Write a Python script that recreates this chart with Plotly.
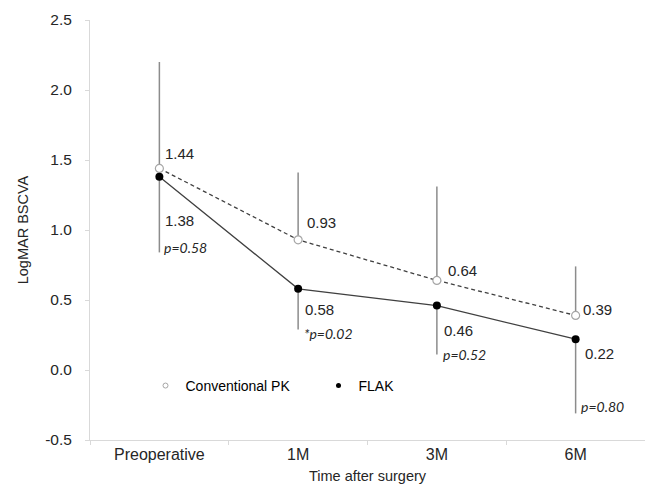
import plotly.graph_objects as go

# ---- data ----
categories = ["Preoperative", "1M", "3M", "6M"]
pk_mean = [1.44, 0.93, 0.64, 0.39]          # Conventional PK
pk_err_plus = [0.76, 0.48, 0.67, 0.35]      # upper SD bars
flak_mean = [1.38, 0.58, 0.46, 0.22]        # FLAK
flak_err_minus = [0.54, 0.29, 0.35, 0.53]   # lower SD bars
p_labels = ["p=0.58", "*p=0.02", "p=0.52", "p=0.80"]
y_tick_vals = [-0.5, 0.0, 0.5, 1.0, 1.5, 2.0, 2.5]
y_tick_text = ["-0.5", "0.0", "0.5", "1.0", "1.5", "2.0", "2.5"]

# ---- label placement (pixel offsets from the points) ----
pk_lab_off = [(4, 15), (7, 17), (9, 10), (5, 6)]
flak_lab_off = [(4, -44), (5, -21), (5, -25), (7, -14)]
p_lab_off = [(3, -71), (4, -45), (4, -49), (3, -67)]

x_idx = list(range(len(categories)))
LINE = "#404040"
BAR = "#8c8c8c"
AX = "#d9d9d9"
TXT = "#262626"
FONT = "Liberation Sans, Arial, sans-serif"

fig = go.Figure()

fig.add_trace(go.Scatter(
    x=categories, y=pk_mean, mode="lines+markers", name="Conventional PK",
    showlegend=False,
    line=dict(color=LINE, width=1.3, dash="4px,3px"),
    marker=dict(symbol="circle", size=8, color="white",
                line=dict(color="#a6a6a6", width=1.2)),
    error_y=dict(type="data", symmetric=False, array=pk_err_plus,
                 arrayminus=[0] * 4, color=BAR, thickness=1.5, width=0),
))
fig.add_trace(go.Scatter(
    x=categories, y=flak_mean, mode="lines+markers", name="FLAK",
    showlegend=False,
    line=dict(color=LINE, width=1.3),
    marker=dict(symbol="circle", size=8, color="black"),
    error_y=dict(type="data", symmetric=False, array=[0] * 4,
                 arrayminus=flak_err_minus, color=BAR, thickness=1.5, width=0),
))
# legend-only entries (markers only, as in the reference)
fig.add_trace(go.Scatter(
    x=[None], y=[None], mode="markers", name="Conventional PK",
    marker=dict(symbol="circle", size=5, color="white",
                line=dict(color="#a6a6a6", width=1)),
))
fig.add_trace(go.Scatter(
    x=[None], y=[None], mode="markers", name="FLAK",
    marker=dict(symbol="circle", size=5, color="black"),
))

annotations = []
for i in x_idx:
    dx, dy = pk_lab_off[i]
    annotations.append(dict(x=i, y=pk_mean[i], xref="x", yref="y",
                            text=f"{pk_mean[i]:.2f}", showarrow=False,
                            xanchor="left", yanchor="middle",
                            xshift=dx, yshift=dy,
                            font=dict(family=FONT, size=15, color=TXT)))
    dx, dy = flak_lab_off[i]
    annotations.append(dict(x=i, y=flak_mean[i], xref="x", yref="y",
                            text=f"{flak_mean[i]:.2f}", showarrow=False,
                            xanchor="left", yanchor="middle",
                            xshift=dx, yshift=dy,
                            font=dict(family=FONT, size=15, color=TXT)))
    dx, dy = p_lab_off[i]
    annotations.append(dict(x=i, y=flak_mean[i], xref="x", yref="y",
                            text=f"<i>{p_labels[i]}</i>", showarrow=False,
                            xanchor="left", yanchor="middle",
                            xshift=dx, yshift=dy,
                            font=dict(family="Lato, Carlito, sans-serif",
                                      size=14, color=TXT)))

fig.update_layout(
    width=645, height=484,
    margin=dict(l=90, r=0, t=20, b=44, autoexpand=False),
    paper_bgcolor="white", plot_bgcolor="white",
    font=dict(family=FONT, size=15, color=TXT),
    hovermode=False,
    annotations=annotations,
    showlegend=True,
    legend=dict(orientation="h", x=0.1, y=(-0.114 + 0.5) / 3.0,
                xref="paper", yref="paper", xanchor="left",
                yanchor="middle",
                entrywidth=128, entrywidthmode="pixels",
                font=dict(family=FONT, size=14, color="black"),
                bgcolor="rgba(0,0,0,0)", borderwidth=0),
)

fig.update_xaxes(
    type="category", range=[-0.5, 3.5], tickson="boundaries",
    showline=True, linecolor=AX, linewidth=1,
    ticks="outside", ticklen=4, tickcolor=AX,
    showgrid=False, zeroline=False,
    tickfont=dict(family=FONT, size=16, color=TXT),
    title=dict(text="Time after surgery", standoff=8,
               font=dict(family=FONT, size=14.5, color=TXT)),
    automargin=False,
)
fig.update_yaxes(
    range=[-0.5, 2.5], tickvals=y_tick_vals, ticktext=y_tick_text,
    showline=True, linecolor=AX, linewidth=1,
    ticks="outside", ticklen=4, tickcolor=AX,
    showgrid=False, zeroline=False, ticklabelstandoff=10,
    tickfont=dict(family=FONT, size=15.5, color=TXT),
    title=dict(text="LogMAR BSCVA", standoff=13,
               font=dict(family=FONT, size=14.5, color=TXT)),
    automargin=False,
)

fig.write_html("out.html", config={"displayModeBar": False},
               post_script="document.body.style.margin='0';")
